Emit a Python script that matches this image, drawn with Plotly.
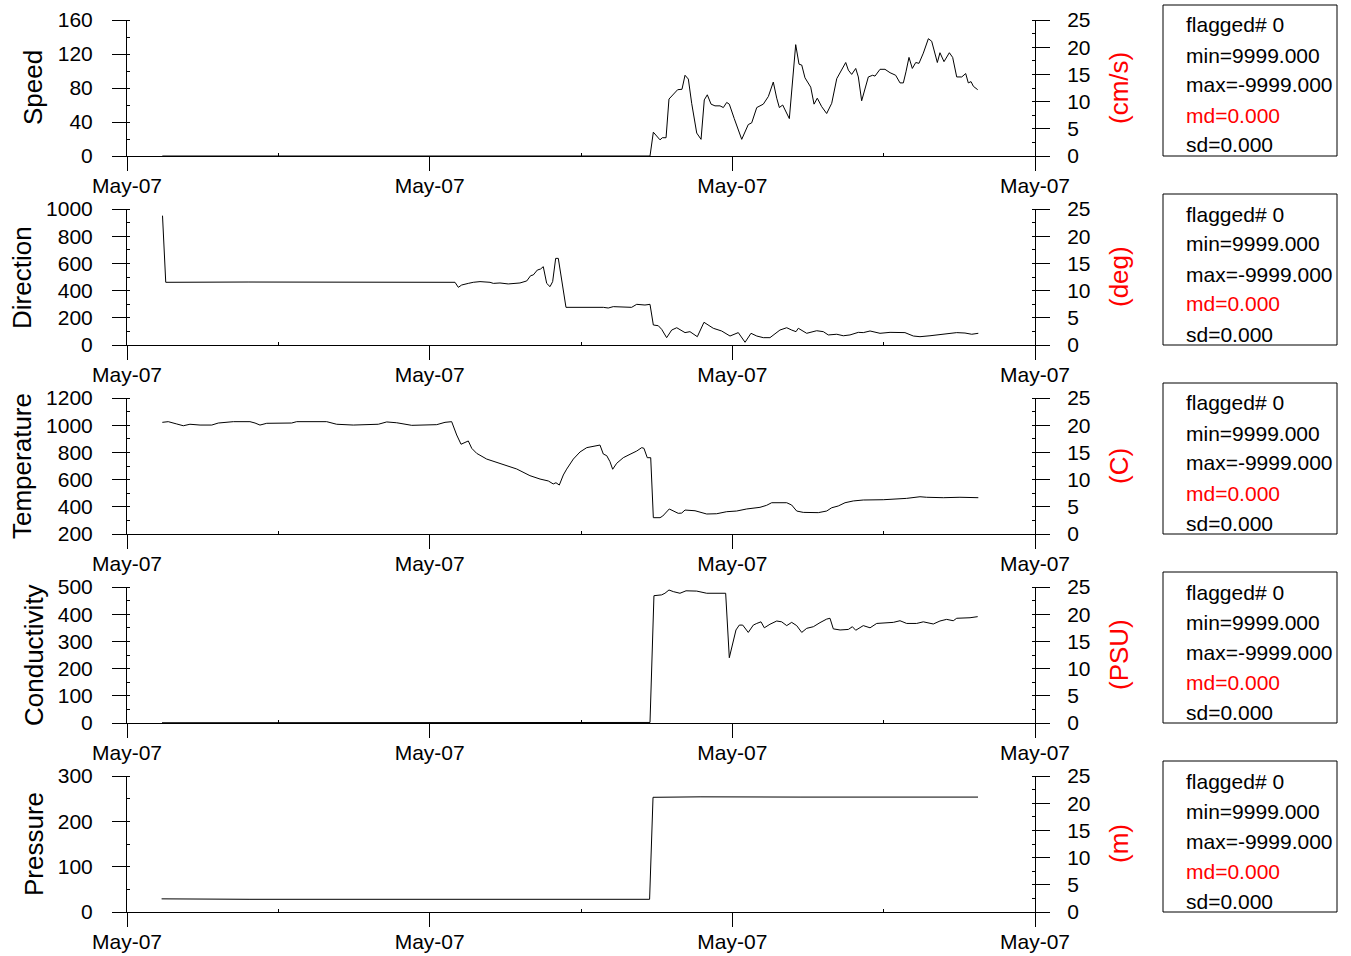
import plotly.graph_objects as go

# ---------------- data (time in minutes from the first tick) ----------------
tick_times = [0, 300, 600, 900]
tick_labels = ["May-07", "May-07", "May-07", "May-07"]

speed_t = [35, 518.4, 521.7, 528.3, 530.6, 534.3, 537.2, 541.5, 545.8, 550.1, 553.1, 556.4,
           559.7, 564.7, 569.0, 572.2, 575.2, 578.9, 582.8, 587.8, 591.1, 594.4, 597.0, 601.9,
           609.3, 615.8, 619.2, 624.2, 630.7, 635.7, 640.6, 644.0, 646.6, 649.9, 656.5, 662.8,
           666.1, 668.8, 672.0, 677.7, 681.0, 684.2, 688.6, 693.5, 698.5, 703.5, 708.4, 712.4,
           715.0, 718.3, 722.3, 724.9, 728.2, 734.8, 739.1, 741.4, 746.4, 751.3, 756.3, 761.9,
           766.2, 769.5, 772.1, 775.1, 778.4, 781.8, 785.0, 789.3, 794.3, 797.6, 803.2, 805.8,
           809.8, 815.1, 818.4, 822.4, 827.4, 831.3, 833.9, 836.6, 838.9, 843.2]
speed_v = [0, 0, 28, 19, 21.5, 21.5, 67, 73, 78, 78.5, 95, 90.5,
           62, 27, 19.6, 66, 72, 61, 59, 59, 57, 63, 61, 44,
           19.6, 37, 39, 57, 61, 70, 87, 68, 57, 60, 44, 131,
           108, 107, 92, 81, 61, 68, 58, 50, 62, 91, 101, 110,
           101, 96, 103, 93, 65, 93, 95, 94, 102, 102, 98, 95,
           86, 86, 99, 116, 103, 110, 109, 121, 138, 135, 110, 121.5,
           111, 121.5, 116, 93, 93, 97, 86, 87.5, 82, 78]

dir_t = [35.2, 38.4, 120, 230, 323.4, 325.1, 328.4, 331.7, 338.3, 343.2, 349.9, 356.5,
         359.8, 363.1, 369.7, 377.9, 389.5, 396.2, 400.1, 402.7, 406.7, 410.0, 412.6, 416.0,
         419.3, 421.9, 424.9, 427.5, 435.1, 472.1, 477.0, 482.0, 500.2, 505.2, 513.4, 518.4,
         521.7, 526.6, 530.0, 534.9, 539.9, 544.9, 553.1, 558.0, 565.3, 571.9, 581.1, 589.4,
         597.7, 605.9, 612.6, 618.5, 624.2, 630.7, 637.3, 647.2, 653.9, 658.8, 663.1, 665.4,
         673.7, 683.6, 690.2, 695.1, 703.5, 710.0, 716.6, 724.9, 729.8, 736.5, 746.4, 756.3,
         771.1, 779.4, 786.0, 795.9, 809.1, 822.4, 830.6, 837.3, 843.8]
dir_v = [951, 461, 463, 461, 462, 461, 424, 441, 453, 461, 466, 466,
         461, 453, 456, 449, 456, 471, 510, 515, 551, 559, 576, 453,
         429, 466, 637, 637, 277, 277, 272, 282, 277, 299, 294, 299,
         147, 142, 115, 54, 110, 127, 91, 98, 61, 167, 123, 103,
         66, 91, 20, 86, 66, 54, 54, 110, 127, 110, 98, 123,
         86, 105, 98, 74, 79, 68, 74, 93, 91, 103, 86, 93,
         91, 66, 61, 68, 81, 91, 88, 79, 86]

temp_t = [35.0, 40.9, 49.3, 55.8, 62.4, 72.4, 84.0, 90.5, 105.4, 121.9, 126.9, 131.8,
          138.5, 151.7, 163.2, 168.2, 197.9, 207.8, 224.3, 249.1, 257.4, 267.3, 282.2, 307.0,
          315.2, 321.8, 326.8, 331.1, 335.0, 338.3, 341.7, 346.6, 356.5, 369.7, 386.3, 399.4,
          409.4, 417.6, 422.5, 425.2, 428.5, 432.5, 435.8, 442.4, 449.0, 455.7, 462.2, 468.8,
          472.1, 475.5, 478.7, 481.4, 485.4, 491.9, 498.6, 505.2, 510.2, 512.4, 515.7, 519.1,
          521.7, 528.3, 531.0, 537.5, 546.4, 549.8, 553.1, 563.0, 574.6, 584.5, 594.4, 604.3,
          614.2, 627.4, 634.0, 639.0, 653.9, 658.8, 663.8, 670.3, 685.2, 693.5, 698.5, 705.0,
          711.7, 719.9, 729.8, 749.6, 772.8, 786.0, 792.6, 809.1, 825.6, 843.8]
temp_v = [1021, 1026, 1009, 996, 1007, 1001, 1001, 1016, 1026, 1026, 1016, 1001,
          1014, 1014, 1016, 1026, 1026, 1007, 1001, 1007, 1024, 1018, 999, 1004,
          1021, 1026, 928, 860, 874, 884, 830, 793, 751, 720, 678, 629,
          604, 590, 568, 577, 560, 634, 677, 751, 803, 835, 847, 854,
          788, 776, 732, 676, 720, 761, 786, 810, 835, 830, 761, 761,
          320, 320, 332, 384, 352, 354, 376, 371, 347, 349, 364, 369,
          384, 396, 411, 430, 430, 413, 369, 359, 357, 369, 393, 406,
          430, 443, 450, 452, 462, 474, 470, 467, 470, 467]

cond_t = [34.7, 518.4, 522.3, 529.9, 533.2, 537.2, 541.5, 548.1, 554.1, 564.7, 574.6, 587.8,
          593.4, 597.0, 600.4, 603.6, 606.9, 610.3, 615.8, 620.8, 624.2, 628.4, 631.7, 637.3,
          644.0, 648.9, 653.9, 658.8, 663.8, 668.8, 673.7, 680.3, 686.9, 693.5, 696.8, 700.1,
          706.8, 715.0, 719.0, 722.3, 729.8, 736.5, 743.1, 753.0, 759.6, 766.2, 772.8, 782.7,
          789.3, 799.2, 805.8, 812.4, 819.0, 822.4, 829.0, 835.6, 843.2]
cond_v = [1, 2, 468, 471, 477, 489, 483, 477, 486, 485, 477, 477,
          477, 240, 293, 342, 360, 360, 333, 360, 366, 372, 350, 363,
          375, 372, 358, 370, 358, 333, 348, 354, 369, 382, 385, 346,
          342, 344, 354, 341, 358, 350, 366, 370, 370, 376, 366, 366,
          372, 364, 375, 381, 376, 385, 385, 387, 391]

pres_t = [34.3, 121.9, 270.6, 419.3, 518.0, 521.4, 568.0, 667.1, 766.2, 843.5]
pres_v = [29, 28, 28, 27.5, 28, 253, 254, 253.5, 254, 253.5]

panel_names = ["Speed", "Direction", "Temperature", "Conductivity", "Pressure"]
panel_units = ["(cm/s)", "(deg)", "(C)", "(PSU)", "(m)"]
left_ranges = [[0, 160], [0, 1000], [200, 1200], [0, 500], [0, 300]]
left_dticks = [40, 200, 200, 100, 100]
right_range = [0, 25]
right_dtick = 5
stats_lines = ["flagged# 0", "min=9999.000", "max=-9999.000", "md=0.000", "sd=0.000"]
stats_colors = ["black", "black", "black", "red", "black"]

series = [(speed_t, speed_v), (dir_t, dir_v), (temp_t, temp_v), (cond_t, cond_v), (pres_t, pres_v)]

# ---------------- layout geometry (pixels) ----------------
W, H = 1351, 956
X0, X1 = 127, 1035
TOPS = [20, 209, 398, 587, 776]
PH = 136
FONT = "Liberation Sans, Arial, sans-serif"
TICKF = 21


def fx(p):
    return p / W


def fy(p):
    return 1 - p / H


fig = go.Figure()
layout = dict(
    template="none",
    width=W, height=H, margin=dict(l=0, r=0, t=0, b=0, pad=0, autoexpand=False),
    paper_bgcolor="white", plot_bgcolor="white", showlegend=False,
    font=dict(family=FONT, size=TICKF, color="black"),
)
annotations = []
shapes = []

for i in range(5):
    n = i + 1
    xname = "x" if n == 1 else f"x{n}"
    xkey = "xaxis" if n == 1 else f"xaxis{n}"
    yl = f"y{n}" if n > 1 else "y"
    ylkey = "yaxis" if n == 1 else f"yaxis{n}"
    yr = f"y{n + 5}"
    yrkey = f"yaxis{n + 5}"
    top = TOPS[i]
    bot = top + PH
    ydom = [fy(bot), fy(top)]

    t, v = series[i]
    fig.add_trace(go.Scatter(x=t, y=v, mode="lines", line=dict(color="black", width=1),
                             xaxis=xname, yaxis=yl, hoverinfo="skip"))
    fig.add_trace(go.Scatter(x=[None], y=[None], mode="lines", xaxis=xname, yaxis=yr,
                             hoverinfo="skip"))

    layout[xkey] = dict(
        domain=[fx(X0), fx(X1)], anchor=yl, range=[tick_times[0], tick_times[-1]],
        tickmode="array", tickvals=tick_times, ticktext=tick_labels,
        ticks="outside", ticklen=14, tickwidth=1, tickcolor="black",
        showline=True, linecolor="black", linewidth=1, showgrid=False, zeroline=False,
        tickfont=dict(size=TICKF), ticklabelstandoff=-3, automargin=False,
        minor=dict(ticks="inside", ticklen=3, tickwidth=1, tickcolor="black",
                   tickvals=[(tick_times[k] + tick_times[k + 1]) / 2 for k in range(3)]),
        fixedrange=True,
    )
    lo, hi = left_ranges[i]
    dt = left_dticks[i]
    layout[ylkey] = dict(
        domain=ydom, anchor=xname, range=[lo, hi], tickmode="linear", tick0=lo, dtick=dt,
        ticks="outside", ticklen=14, tickwidth=1, tickcolor="black",
        showline=True, linecolor="black", linewidth=1, showgrid=False, zeroline=False,
        tickfont=dict(size=TICKF), ticklabelstandoff=15, automargin=False,
        minor=dict(ticks="inside", ticklen=3, tickwidth=1, tickcolor="black", dtick=dt / 2),
        fixedrange=True,
    )
    layout[yrkey] = dict(
        domain=ydom, anchor=xname, overlaying=yl, side="right", range=right_range,
        tickmode="linear", tick0=0, dtick=right_dtick,
        ticks="outside", ticklen=14, tickwidth=1, tickcolor="black",
        showline=True, linecolor="black", linewidth=1, showgrid=False, zeroline=False,
        tickfont=dict(size=TICKF), ticklabelstandoff=13, automargin=False,
        minor=dict(ticks="inside", ticklen=3, tickwidth=1, tickcolor="black",
                   dtick=right_dtick / 2),
        fixedrange=True,
    )

    mid = (top + bot) / 2
    title_x = [33, 22, 22, 34, 34][i]
    annotations.append(dict(x=fx(title_x), y=fy(mid), xref="paper", yref="paper",
                            text=panel_names[i], textangle=-90, showarrow=False,
                            xanchor="center", yanchor="middle",
                            font=dict(size=26, color="black")))
    annotations.append(dict(x=fx(1119), y=fy(mid), xref="paper", yref="paper",
                            text=panel_units[i], textangle=-90, showarrow=False,
                            xanchor="center", yanchor="middle",
                            font=dict(size=26, color="red")))
    box_top = top - 15
    shapes.append(dict(type="rect", xref="paper", yref="paper",
                       x0=fx(1163), x1=fx(1337), y0=fy(bot), y1=fy(box_top),
                       line=dict(color="black", width=1), fillcolor="rgba(0,0,0,0)"))
    for k, (txt, col) in enumerate(zip(stats_lines, stats_colors)):
        annotations.append(dict(x=fx(1184), y=fy(box_top + 20 + 30 * k), xref="paper",
                                yref="paper", text=txt, showarrow=False, xanchor="left",
                                yanchor="middle", font=dict(size=21, color=col)))

layout["annotations"] = annotations
layout["shapes"] = shapes
fig.update_layout(**layout)
fig.write_html("out.html", config={"displayModeBar": False, "staticPlot": True},
               post_script="document.body.style.margin='0';"
                           "document.body.style.overflow='hidden';")
